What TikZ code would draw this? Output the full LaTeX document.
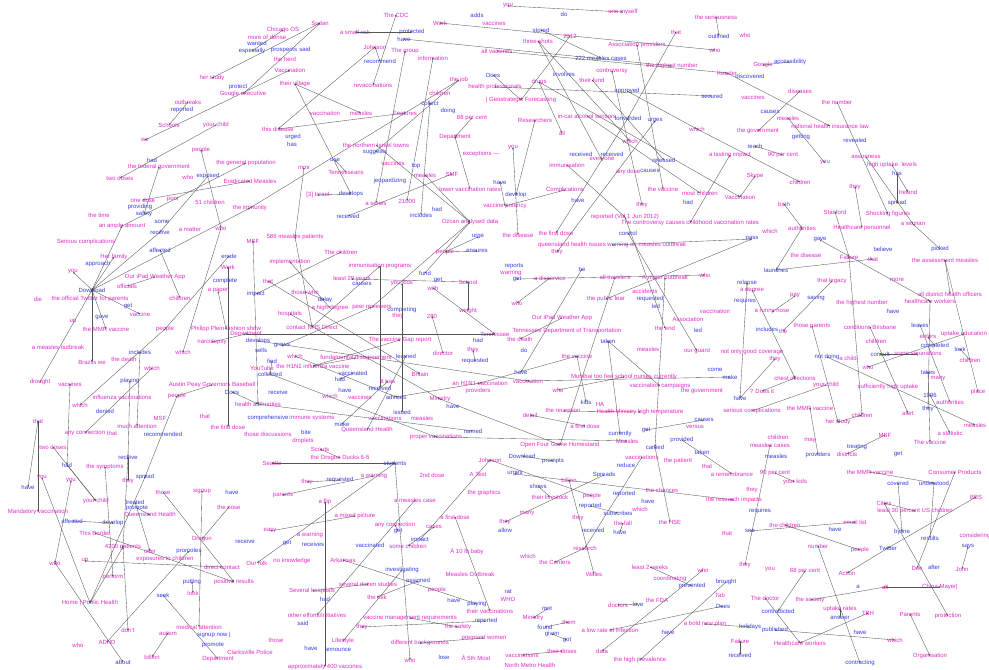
\documentclass[tikz,border=0pt]{standalone}
\usepackage{fontspec}
\setmainfont{Liberation Sans}
\usetikzlibrary{arrows.meta}
\definecolor{magC}{RGB}{226,45,200}
\definecolor{bluC}{RGB}{55,60,225}
\definecolor{edgC}{RGB}{85,85,85}
\tikzset{
  mg/.style={text=magC, font=\fontsize{6}{6}\selectfont, inner sep=0pt},
  bl/.style={text=bluC, font=\fontsize{6}{6}\selectfont, inner sep=0pt},
  ed/.style={draw=edgC, line width=0.35pt, {Circle[length=1.6pt,fill=magC!60!black]}-{Stealth[length=2.4pt,width=1.8pt]}}
}
\newcommand\mgn[4]{\node[mg] (#1) at (#2,#3) {#4};}
\newcommand\bln[4]{\node[bl] (#1) at (#2,#3) {#4};}
\newcommand\edg[2]{\draw[ed] (#1.center) -- (#2.center);}
\begin{document}
\begin{tikzpicture}[x=1pt,y=-1pt]
\fill[white] (0,0) rectangle (989,670);
\useasboundingbox (0,0) rectangle (989,670);
% ---- top left
\mgn{chicago}{283}{30}{Chicago OS}
\mgn{sudan}{320}{23}{Sudan}
\mgn{moredense}{267}{37}{more of dense}
\bln{wanted}{257}{43}{wanted}
\bln{especially}{252}{51}{especially}
\bln{prospects}{284}{50}{prospects}
\bln{said}{305}{49}{said}
\mgn{herd}{285}{59}{the herd}
\mgn{herstudy}{212}{78}{her study}
\bln{protect}{238}{87}{protect}
\mgn{googleexec}{243}{94}{Google executive}
\mgn{village}{295}{84}{their village}
\mgn{outbreaks}{188}{102}{outbreaks}
\bln{reported1}{182}{110}{reported}
\mgn{schools}{169}{125}{Schools}
\mgn{yourchild1}{216}{125}{your child}
\mgn{we1}{145}{140}{we}
\mgn{people1}{201}{150}{people}
\bln{had1}{152}{160}{had}
\mgn{fedgov}{159}{167}{the federal government}
\mgn{twodoses1}{120}{178}{two doses}
\mgn{genpop}{246}{163}{the general population}
\mgn{who1}{188}{177}{who}
\bln{exposed}{208}{176}{exposed}
\mgn{eradicated}{250}{181}{Eradicated Measles}
\mgn{onedose}{143}{200}{one dose}
\mgn{poor}{173}{200}{poor}
\bln{providing}{140}{207}{providing}
\bln{safety}{144}{214}{safety}
\mgn{thetime}{99}{215}{the time}
\mgn{children51}{210}{202}{51 children}
\mgn{immunity}{250}{208}{the immunity}
\mgn{thisdisease}{278}{129}{this disease}
\bln{urged}{293}{137}{urged}
\bln{has1}{292}{144}{has}
% ---- top middle
\mgn{cdc}{396}{15}{The CDC}
\mgn{smallrisk}{355}{32}{a small risk}
\bln{protected}{412}{32}{protected}
\bln{have1}{404}{39}{have}
\mgn{johnson1}{375}{47}{Johnson}
\mgn{group}{405}{51}{The group}
\bln{recommend}{380}{61}{recommend}
\mgn{vaccination1}{290}{70}{Vaccination}
\mgn{revacc}{373}{85}{revaccinations}
\mgn{information}{433}{58}{information}
\mgn{work1}{440}{23}{Work}
\bln{adds}{477}{15}{adds}
\mgn{vaccines1}{494}{23}{vaccines}
\mgn{alltvacc}{497}{51}{all vaccines}
\bln{does1}{493}{75}{Does}
\mgn{thejob}{459}{80}{the job}
\mgn{healthpro}{495}{87}{health professionals}
\mgn{children1}{440}{93}{children}
\bln{collect}{430}{103}{collect}
\bln{doing}{448}{111}{doing}
\mgn{geo}{521}{100}{| Geostrategic Forecasting}
\mgn{vaccination2}{325}{113}{vaccination}
\mgn{measles1}{361}{113}{measles}
\mgn{features}{405}{113}{Features}
\mgn{eightyeight}{472}{118}{88 per cent}
\mgn{israel}{376}{145}{the northern Israel towns}
\mgn{department1}{455}{137}{Department}
\bln{suggests}{375}{152}{suggests}
\mgn{vaccines2}{393}{163}{vaccines}
\mgn{exceptions}{481}{154}{exceptions ---}
\bln{use}{335}{160}{use}
\mgn{tennesseans}{346}{172}{Tennesseans}
\bln{top}{416}{166}{top}
\mgn{measles2}{425}{175}{measles}
\mgn{smf}{452}{174}{SMF}
\mgn{mmr}{304}{168}{mmr}
\bln{jeopard}{390}{181}{jeopardizing}
\mgn{lowervacc}{470}{189}{lower vaccination rates}
\mgn{israel3}{318}{195}{[3] Israel}
\bln{develops1}{351}{194}{develops}
\mgn{aseries}{376}{203}{a series}
\mgn{n21000}{407}{201}{21000}
\bln{received1}{348}{216}{received}
\bln{includes1}{421}{215}{includes}
\bln{had2}{437}{209}{had}
\mgn{ozcan}{470}{222}{Ozcan analysed data}
\bln{have17}{500}{182}{have}
% ---- top right-middle
\mgn{you1}{508}{6}{you}
\bln{do1}{564}{14}{do}
\mgn{onemyself}{623}{12}{one myself}
\bln{stored}{541}{30}{stored}
\mgn{y2012}{570}{36}{2012}
\mgn{threeshots}{538}{41}{three shots}
\bln{measlescases222}{601}{58}{222 measles cases}
\mgn{assoc}{637}{45}{Association providers}
\mgn{highest1}{672}{66}{the highest number}
\mgn{that1}{676}{32}{that}
\mgn{serious}{716}{17}{the seriousness}
\bln{outlined}{719}{36}{outlined}
\mgn{who2}{715}{50}{who}
\mgn{kessler}{727}{73}{Kessler}
\mgn{controversy}{612}{71}{controversy}
\bln{involves}{564}{74}{involves}
\mgn{theirfund}{592}{80}{their fund}
\mgn{drugs}{539}{82}{drugs}
\bln{approved}{627}{91}{approved}
\bln{secured}{712}{96}{secured}
\mgn{researchers}{535}{120}{Researchers}
\mgn{incar}{587}{116}{in-car alcohol sensors}
\bln{forwarded}{628}{118}{forwarded}
\bln{urges1}{655}{121}{urges}
\mgn{which1}{630}{141}{which}
\mgn{which2}{697}{129}{which}
\mgn{all1}{562}{133}{all}
\mgn{you2}{513}{148}{you}
\bln{received2}{581}{154}{received}
\bln{received3}{612}{154}{received}
\mgn{everyone}{602}{160}{everyone}
\mgn{immunisation}{567}{165}{immunisation}
\mgn{lasting}{730}{155}{a lasting impact}
\bln{released}{664}{160}{released}
\mgn{anydose}{628}{172}{any dose}
\bln{causes1}{650}{171}{causes}
\mgn{complications}{565}{190}{Complications}
\mgn{thevaccine1}{663}{189}{the vaccine}
\mgn{mostchildren}{700}{193}{most children}
\mgn{vaccination3}{740}{197}{Vaccination}
\bln{had3}{688}{202}{had}
\bln{have2}{578}{200}{have}
\mgn{they1}{642}{205}{they}
\bln{develop1}{516}{195}{develop}
\mgn{potency}{505}{206}{vaccine potency}
\mgn{vol}{625}{217}{reported (Vol 1 Jun 2012)}
\mgn{controversy2}{690}{223}{The controversy causes childhood vaccination rates}
% ---- top right
\mgn{who3}{745}{35}{who}
\mgn{google}{763}{65}{Google}
\bln{access}{790}{62}{accessibility}
\bln{discovered}{750}{76}{discovered}
\mgn{vaccines3}{753}{97}{vaccines}
\mgn{diseases}{800}{91}{diseases}
\mgn{number1}{837}{102}{the number}
\bln{causes2}{770}{112}{causes}
\mgn{measles3}{788}{118}{measles}
\mgn{thegov1}{758}{131}{the government}
\mgn{insurance}{830}{126}{national health insurance law}
\bln{getting}{801}{137}{getting}
\bln{revealed}{855}{140}{revealed}
\bln{reach}{755}{146}{reach}
\mgn{ninety1}{783}{155}{90 per cent}
\mgn{you3}{825}{163}{you}
\mgn{awareness}{866}{157}{awareness}
\mgn{uptake1}{892}{165}{high uptake\ \ levels}
\bln{has2}{897}{173}{has}
\mgn{skype}{755}{176}{Skype}
\mgn{children2}{800}{182}{children}
\mgn{they2}{855}{187}{they}
\mgn{ireland}{908}{192}{Ireland}
\bln{spread1}{897}{203}{spread}
\mgn{birth}{784}{204}{birth}
\mgn{stanford}{835}{212}{Stanford}
\mgn{shocking}{888}{214}{Shocking figures}
\mgn{woman}{913}{224}{a woman}
% ---- left middle
\mgn{ample}{122}{226}{an ample amount}
\bln{some}{162}{222}{some}
\bln{receive1}{160}{232}{receive}
\mgn{matter}{190}{230}{a matter}
\mgn{who4}{221}{228}{who}
\mgn{seriouscomp}{86}{242}{Serious complications}
\bln{affected1}{160}{250}{affected}
\mgn{herfamily}{114}{257}{Her family}
\bln{approach}{98}{264}{approach}
\bln{erode}{229}{256}{erode}
\mgn{work2}{228}{267}{Work}
\mgn{you4}{73}{272}{you}
\mgn{ipad1}{155}{277}{Our iPad Weather App}
\mgn{officials}{127}{286}{officials}
\bln{complete}{225}{281}{complete}
\mgn{apaper}{218}{291}{a paper}
\bln{download1}{92}{290}{Download}
\mgn{twitter}{90}{299}{the official Twitter for parents}
\mgn{die}{38}{299}{die}
\bln{get1}{128}{306}{get}
\mgn{children3}{180}{298}{children}
\mgn{vaccine4}{140}{314}{vaccine}
\bln{gave1}{102}{318}{gave}
\mgn{up1}{73}{322}{up}
\mgn{mmr1}{106}{329}{the MMR vaccine}
\mgn{people2}{165}{329}{people}
\mgn{philipp}{226}{329}{Philipp Plein fashion show}
\mgn{outbreak1}{58}{347}{a measles outbreak}
\mgn{narcolepsy}{212}{342}{narcolepsy}
\bln{includes2}{140}{352}{includes}
\mgn{which11}{183}{352}{which}
\mgn{death1}{124}{359}{the death}
\mgn{brazils}{92}{362}{Brazils we}
\mgn{which3}{152}{368}{which}
\mgn{drought}{40}{382}{drought}
\mgn{vaccines5}{70}{384}{vaccines}
\bln{playing1}{130}{381}{playing}
\mgn{austin}{212}{385}{Austin Peay Governors Baseball}
\mgn{people3}{177}{396}{people}
\mgn{influenza}{122}{397}{influenza vaccinations}
\mgn{which4}{80}{405}{which}
\bln{denied}{105}{411}{denied}
\bln{does2}{232}{392}{Does}
\mgn{that2}{205}{416}{that}
\mgn{that3}{38}{421}{that}
\mgn{msf1}{160}{418}{MSF}
\mgn{attention1}{137}{426}{much attention}
\mgn{anyconn1}{85}{433}{any connection}
\bln{recommended}{163}{434}{recommended}
\mgn{that4}{112}{433}{that}
\mgn{firstdose1}{228}{427}{the first dose}
\mgn{discussions}{268}{434}{those discussions}
\mgn{healthauth}{258}{404}{health authorities}
% ---- center
\mgn{msf2}{253}{241}{MSF}
\mgn{patients586}{295}{237}{586 measles patients}
\mgn{thechildren}{341}{252}{The children}
\mgn{implementation}{290}{262}{implementation}
\mgn{immprog}{380}{266}{immunisation programs}
\mgn{least20}{352}{279}{least 20 years}
\bln{causes3}{362}{284}{causes}
\bln{fund}{425}{273}{fund}
\bln{get2}{438}{280}{get}
\mgn{school}{468}{282}{School}
\mgn{with1}{433}{288}{with}
\mgn{that5}{268}{281}{that}
\mgn{yourkids}{402}{283}{you kids}
\bln{impact}{256}{294}{impact}
\mgn{thosewho}{305}{292}{those who}
\bln{delay}{325}{300}{delay}
\mgn{highdeg}{330}{308}{a high degree}
\mgn{peer}{372}{307}{peer reviewers}
\bln{completing1}{402}{310}{completing}
\mgn{they3}{398}{316}{they}
\mgn{weight}{468}{311}{weight}
\mgn{n280}{432}{316}{280}
\mgn{hospitals}{290}{314}{hospitals}
\mgn{nhs}{312}{327}{contact NHS Direct}
\mgn{department2}{246}{334}{Department}
\mgn{gapreport}{400}{340}{The vaccine Gap report}
\mgn{tennessee1}{495}{334}{Tennessee}
\bln{had4}{478}{340}{had}
\bln{develops2}{258}{341}{develops}
\bln{grows}{282}{346}{grows}
\bln{sells}{261}{350}{sells}
\mgn{which5}{295}{356}{which}
\mgn{h1n11}{313}{366}{the H1N1 influenza vaccine}
\mgn{fundamental}{356}{358}{fundamental disagreement}
\bln{learned}{406}{356}{learned}
\mgn{youtube}{262}{368}{YouTube}
\bln{find}{272}{361}{find}
\bln{collected}{270}{374}{collected}
\mgn{director}{443}{353}{director}
\mgn{they4}{473}{350}{they}
\bln{requested1}{475}{361}{requested}
\bln{vaccinated1}{353}{373}{vaccinated}
\bln{had5}{340}{379}{had}
\mgn{ithas}{388}{381}{it has}
\bln{received4}{380}{388}{received}
\mgn{britain}{420}{374}{Britain}
\mgn{h1n12}{480}{383}{an H1N1 vaccination}
\bln{receive2}{278}{392}{receive}
\bln{have3}{345}{390}{have}
\mgn{vaccines6}{360}{397}{vaccines}
\mgn{which6}{330}{396}{which}
\bln{advises}{396}{397}{advises}
\mgn{ministry1}{440}{399}{Ministry}
\mgn{providers1}{478}{391}{providers}
\bln{have4}{453}{406}{have}
\bln{issued}{402}{412}{issued}
\mgn{measles4}{422}{418}{measles}
\mgn{vaccinations1}{385}{418}{vaccinations}
\bln{comprehensive}{268}{418}{comprehensive}
\mgn{immunesys}{312}{418}{immune systems}
\bln{make1}{342}{424}{make}
\mgn{qh1}{367}{430}{Queensland Health}
\bln{bite}{306}{432}{bite}
\mgn{droplets}{303}{441}{droplets}
\bln{named}{473}{431}{named}
\mgn{proper}{436}{437}{proper vaccinations}
\mgn{people7}{445}{252}{people}
\bln{ensures}{477}{251}{ensures}
\bln{urge}{478}{237}{urge}
% ---- center right
\mgn{disease1}{518}{235}{the disease}
\mgn{firstdose2}{556}{233}{the first dose}
\mgn{qhissues}{612}{245}{queensland health issues warning on measles outbreak}
\mgn{they5}{557}{252}{they}
\bln{control}{628}{233}{control}
\bln{reports1}{514}{266}{reports}
\mgn{warning1}{511}{273}{warning}
\bln{get3}{517}{279}{get}
\mgn{disservice}{550}{278}{a disservice}
\bln{be1}{582}{269}{be}
\mgn{travelers}{615}{277}{all travelers}
\mgn{majoroutbreak}{665}{278}{A major outbreak}
\mgn{who5}{705}{275}{who}
\mgn{publicfear}{606}{299}{the public fear}
\bln{requested2}{650}{299}{requested}
\mgn{accidents}{645}{291}{accidents}
\bln{led1}{656}{306}{led}
\mgn{vaccination4}{715}{311}{vaccination}
\mgn{who6}{517}{303}{who}
\mgn{ipad2}{562}{318}{Our iPad Weather App}
\mgn{tdot}{567}{331}{Tennessee Department of Transportation}
\mgn{assoc2}{688}{319}{Association}
\mgn{theend}{665}{328}{the end}
\bln{led2}{698}{330}{led}
\mgn{death2}{520}{339}{the death}
\bln{taken1}{608}{341}{taken}
\mgn{measles5}{648}{349}{measles}
\mgn{ourguard}{697}{351}{our guard}
\mgn{goodcov}{752}{352}{not only good coverage}
\bln{do2}{524}{350}{do}
\mgn{thevaccine2}{577}{356}{the vaccine}
\bln{have5}{521}{372}{have}
\mgn{vaccination5}{528}{381}{vaccination}
\mgn{nurses}{624}{377}{Mumbai too few school nurses currently}
\bln{come}{715}{370}{come}
\bln{make2}{730}{377}{make}
\mgn{who7}{558}{390}{who}
\mgn{campaigns}{660}{386}{vaccination campaigns}
\mgn{thegov2}{702}{391}{the government}
\bln{kids}{586}{402}{kids}
\mgn{ha}{600}{404}{HA}
\mgn{reception}{563}{411}{the reception}
\mgn{detail}{530}{415}{detail}
\mgn{healthmin}{640}{412}{Health Ministry high temperature}
\mgn{seriouscomp2}{752}{411}{serious complications}
\mgn{firstdose3}{585}{426}{a first dose}
\bln{causes4}{704}{420}{causes}
\mgn{eversus}{695}{427}{versus}
\bln{got1}{646}{430}{got}
\bln{currently}{620}{434}{currently}
\mgn{measles6}{627}{441}{Measles}
\mgn{open4}{560}{445}{Open Four Game Homestand}
% ---- right middle
\mgn{which7}{770}{231}{which}
\mgn{authorities1}{802}{228}{authorities}
\mgn{hcpersonnel}{862}{228}{Healthcare personnel}
\bln{pass}{752}{239}{pass}
\bln{gave2}{820}{240}{gave}
\mgn{disease2}{806}{255}{the disease}
\mgn{failure1}{849}{257}{Failure}
\mgn{that6}{873}{259}{that}
\bln{believe}{883}{249}{believe}
\bln{picked}{940}{249}{picked}
\mgn{assessment}{945}{260}{the assessment measles}
\bln{launches}{776}{270}{launches}
\bln{relapse}{747}{283}{relapse}
\mgn{degree}{752}{290}{a degree}
\mgn{legacy}{832}{281}{that legacy}
\mgn{more1}{897}{280}{more}
\mgn{district}{950}{294}{all district health officers}
\mgn{pay}{795}{296}{pay}
\bln{saving}{816}{298}{saving}
\mgn{highest2}{862}{303}{the highest number}
\mgn{hcworkers}{930}{301}{healthcare workers}
\bln{have6}{893}{311}{have}
\mgn{runny}{772}{312}{a runny nose}
\bln{requires1}{745}{301}{requires}
\bln{includes3}{767}{329}{includes}
\mgn{the1}{783}{331}{the}
\mgn{thoseparents}{812}{326}{those parents}
\mgn{conditions}{870}{327}{conditions Brisbane}
\bln{leaves}{920}{325}{leaves}
\mgn{enters}{928}{337}{enters}
\mgn{uptakeedu}{964}{334}{uptake education}
\mgn{children4}{876}{341}{children}
\bln{completed}{935}{346}{completed}
\bln{look}{960}{349}{look}
\mgn{children5}{970}{360}{children}
\bln{notdoing}{827}{357}{not doing}
\mgn{achild}{848}{358}{a child}
\bln{consult}{880}{354}{consult}
\mgn{separations}{918}{354}{some separations}
\mgn{who8}{868}{367}{who}
\bln{takes}{928}{372}{takes}
\mgn{many1}{938}{379}{many}
\mgn{they6}{775}{359}{they}
\mgn{chest}{795}{378}{chest infections}
\mgn{yourchild2}{826}{385}{your child}
\mgn{sufficient}{888}{387}{sufficiently high uptake}
\bln{y1996}{930}{395}{1996}
\mgn{authorities2}{950}{402}{authorities}
\mgn{place}{978}{392}{place}
\mgn{doesit}{762}{391}{? Does it}
\bln{have7}{740}{398}{have}
\mgn{mmr2}{810}{408}{the MMR vaccine}
\bln{they7}{928}{409}{they}
\mgn{children6}{862}{415}{children}
\mgn{herstudy2}{838}{422}{her study}
\mgn{alert}{908}{413}{alert}
\mgn{statistic}{950}{433}{a statistic}
\mgn{measles7}{975}{425}{measles}
\mgn{children7}{778}{437}{children}
\mgn{msf3}{885}{435}{MSF}
\mgn{vaccine8}{930}{442}{The vaccine}
% ---- lower left
\mgn{twodoses2}{53}{447}{two doses}
\bln{had6}{67}{465}{had}
\mgn{symptoms}{105}{467}{the symptoms}
\bln{receive3}{128}{457}{receive}
\bln{spread2}{145}{477}{spread}
\mgn{they8}{128}{481}{they}
\bln{have8}{28}{487}{have}
\mgn{you5}{42}{478}{you}
\mgn{you6}{71}{481}{you}
\mgn{those1}{163}{492}{those}
\mgn{signup}{202}{491}{signup}
\bln{have9}{232}{492}{have}
\mgn{yourchild3}{96}{501}{your child}
\bln{treated}{135}{502}{treated}
\bln{promote1}{137}{508}{promote}
\mgn{qh2}{150}{515}{Queensland Health}
\mgn{thenose}{229}{507}{the nose}
\mgn{mandatory}{38}{512}{Mandatory vaccination}
\bln{affected2}{72}{521}{affected}
\bln{develop2}{113}{523}{develop}
\mgn{border}{95}{533}{This Border}
\mgn{dragon}{202}{539}{Dragon}
\mgn{patients4200}{123}{547}{4200 patients}
\bln{receive4}{245}{541}{receive}
\mgn{offer}{150}{551}{offer}
\bln{promotes}{189}{551}{promotes}
\mgn{exposures}{165}{559}{exposures to children}
\mgn{direct}{222}{567}{direct contact}
\mgn{who9}{55}{563}{who}
\mgn{up2}{85}{561}{up}
\mgn{perform}{113}{577}{perform}
\bln{putting}{192}{582}{putting}
\mgn{positive}{234}{582}{positive results}
\mgn{look2}{193}{593}{look}
\mgn{homeph}{90}{603}{Home | Public Health}
\bln{seek}{163}{595}{seek}
\mgn{dont}{128}{630}{don't}
\mgn{medattention}{199}{627}{medical attention}
\mgn{autism}{168}{633}{autism}
\bln{signupnow}{214}{635}{signup now |}
\mgn{adhd}{107}{642}{ADHD}
\mgn{who10}{78}{645}{who}
\bln{promote2}{213}{645}{promote}
\mgn{clarksville}{250}{652}{Clarksville Police}
\mgn{department3}{218}{659}{Department}
\bln{about}{123}{662}{about}
\mgn{billion1}{152}{657}{billion}
% ---- lower center
\mgn{scouts}{320}{449}{Scouts}
\mgn{oregon}{340}{458}{the Oregon Ducks 6-5}
\mgn{seattle}{272}{463}{Seattle}
\bln{students}{395}{463}{students}
\mgn{johnson2}{490}{460}{Johnson}
\mgn{seconddose}{432}{475}{2nd dose}
\mgn{atest}{478}{474}{A Test}
\mgn{graphics}{484}{493}{the graphics}
\mgn{they9}{307}{482}{they}
\bln{requested3}{340}{480}{requested}
\mgn{warning2}{374}{476}{a warning}
\mgn{parents1}{283}{495}{parents}
\mgn{flip}{325}{502}{a flip}
\mgn{measlescase}{415}{500}{a measles case}
\mgn{mixed}{355}{516}{a mixed picture}
\mgn{firstdose4}{455}{517}{a first dose}
\mgn{anyconn2}{395}{525}{any connection}
\bln{get4}{398}{531}{get}
\mgn{cases1}{434}{527}{cases}
\bln{impact2}{420}{540}{impact}
\mgn{easy}{270}{531}{easy}
\mgn{warning3}{310}{535}{a warning}
\bln{receives}{313}{544}{receives}
\bln{get5}{287}{543}{get}
\bln{vaccinated2}{370}{545}{vaccinated}
\mgn{somechildren}{408}{546}{some children}
\mgn{tenlb}{467}{551}{Â 10 lb baby}
\mgn{noknow}{292}{561}{no knowledge}
\mgn{arkansas}{343}{560}{Arkansas}
\mgn{ourfolk}{257}{563}{Our folk}
\bln{investigating}{402}{570}{investigating}
\mgn{mo}{470}{574}{Measles Outbreak}
\mgn{dozen}{368}{584}{several dozen studies}
\mgn{severalhosp}{312}{591}{Several hospitals}
\bln{had7}{325}{599}{had}
\bln{assigned}{418}{581}{assigned}
\mgn{people4}{437}{590}{people}
\mgn{risk}{377}{597}{the risk}
\bln{have10}{454}{600}{have}
\bln{playing2}{477}{604}{playing}
\mgn{theirvacc}{490}{611}{their vaccinations}
\mgn{vmr}{410}{618}{vaccine management requirements}
\mgn{otherefforts}{317}{615}{other efforts/initiatives}
\bln{said2}{303}{623}{said}
\mgn{safety2}{458}{627}{the safety}
\bln{reported2}{486}{621}{reported}
\mgn{they10}{362}{627}{they}
\mgn{those2}{276}{640}{those}
\mgn{lifestyle}{343}{641}{Lifestyle}
\mgn{backgrounds}{420}{643}{different backgrounds}
\mgn{pregnant}{484}{638}{pregnant women}
\bln{have11}{311}{648}{have}
\bln{announce}{338}{650}{announce}
\mgn{fifthmost}{476}{658}{Â 5th Most}
\mgn{approx}{325}{667}{approximately 400 vaccines}
\bln{lose}{444}{657}{lose}
\mgn{who11}{410}{660}{who}
% ---- lower center right
\bln{carried}{655}{447}{carried}
\bln{provided}{682}{440}{provided}
\bln{download2}{522}{456}{Download}
\mgn{vaccinations2}{642}{457}{vaccinations}
\mgn{patient}{678}{461}{the patient}
\bln{prompts}{553}{461}{prompts}
\bln{taken2}{702}{452}{taken}
\mgn{that7}{707}{466}{that}
\bln{reduce}{626}{465}{reduce}
\mgn{remembrance}{732}{474}{a remembrance}
\bln{urges2}{515}{474}{urges}
\bln{spreads}{604}{475}{Spreads}
\mgn{billion2}{569}{480}{billion}
\bln{shows}{538}{486}{shows}
\mgn{chances}{662}{490}{the chances}
\mgn{livestock}{550}{497}{their livestock}
\mgn{people5}{592}{496}{people}
\bln{reported3}{624}{494}{reported}
\bln{have12}{648}{501}{have}
\mgn{research1}{734}{500}{the research impacts}
\mgn{many2}{527}{514}{many}
\bln{reported4}{590}{506}{reported}
\bln{subscribes}{618}{513}{subscribes}
\mgn{which8}{640}{509}{which}
\mgn{theyall}{578}{518}{they}
\mgn{thefall}{623}{523}{the fall}
\mgn{hse}{670}{522}{the HSE}
\bln{have13}{620}{532}{have}
\mgn{that8}{727}{533}{that}
\mgn{they11}{505}{522}{they}
\bln{allow}{505}{530}{allow}
\bln{received5}{593}{530}{received}
\mgn{research2}{585}{548}{research}
\mgn{which9}{528}{556}{which}
\mgn{centers}{555}{562}{the Centers}
\mgn{twoweeks}{650}{567}{least 2 weeks}
\mgn{who12}{703}{570}{who}
\mgn{wales}{594}{574}{Wales}
\mgn{coordinating}{670}{579}{coordinating}
\bln{prevented}{692}{586}{prevented}
\bln{brought}{726}{582}{brought}
\bln{rat}{508}{592}{rat}
\mgn{whoorg}{508}{599}{WHO}
\mgn{tab}{720}{595}{Tab}
\bln{does3}{723}{606}{Does}
\mgn{doctors}{618}{605}{doctors}
\bln{love}{638}{604}{love}
\mgn{fda}{657}{600}{the FDA}
\bln{met}{547}{609}{met}
\mgn{ministry2}{533}{618}{Ministry}
\bln{found1}{545}{627}{found}
\mgn{them}{569}{622}{them}
\mgn{lowrate}{610}{630}{a low rate of infection}
\mgn{newplan}{705}{624}{a bold new plan}
\bln{holidays}{750}{627}{holidays}
\bln{given2}{552}{634}{given}
\bln{got2}{567}{640}{got}
\bln{have14}{668}{632}{have}
\mgn{theirdoses}{562}{651}{their doses}
\mgn{vaccinations3}{522}{655}{vaccinations}
\mgn{data}{602}{651}{data}
\mgn{failure2}{740}{641}{Failure}
\mgn{northmetro}{530}{665}{North Metro Health}
\mgn{prevalence}{640}{660}{the high prevalence}
\bln{received6}{740}{655}{received}
% ---- lower right
\mgn{measlescases2}{770}{445}{measles cases}
\mgn{may}{810}{441}{may}
\bln{treating}{857}{447}{treating}
\bln{measles8}{776}{456}{measles}
\bln{providers2}{818}{455}{providers}
\mgn{districts}{847}{454}{districts}
\bln{get6}{898}{454}{get}
\mgn{mmr3}{870}{472}{the MMR vaccine}
\mgn{consumer}{955}{472}{Consumer Products}
\mgn{ninety2}{775}{473}{90 per cent}
\mgn{yourkids2}{795}{482}{your kids}
\bln{covered}{898}{483}{covered}
\bln{understood}{934}{483}{understood}
\mgn{cities}{884}{503}{Cities}
\mgn{least30}{915}{511}{least 30 percent US children}
\mgn{bbs}{976}{497}{BBS}
\mgn{they12}{752}{490}{they}
\bln{requires2}{760}{511}{requires}
\mgn{emaillist}{855}{522}{email list}
\bln{have15}{835}{529}{have}
\mgn{thechildren2}{785}{525}{the children}
\bln{see}{750}{531}{see}
\bln{byline}{902}{532}{byline}
\bln{results}{930}{538}{results}
\mgn{considering}{975}{536}{considering}
\mgn{people6}{860}{550}{people}
\bln{twitter2}{888}{548}{Twitter}
\mgn{number2}{818}{546}{number}
\bln{says}{968}{547}{says}
\mgn{dee}{917}{568}{Dee}
\bln{after}{934}{567}{after}
\mgn{john}{962}{569}{John}
\mgn{they13}{745}{565}{they}
\mgn{you7}{770}{570}{you}
\mgn{eightyeight2}{805}{571}{88 per cent}
\mgn{action}{847}{573}{Action}
\bln{a1}{858}{587}{a}
\mgn{all2}{885}{587}{all}
\mgn{china}{940}{587}{China Mayer|}
\mgn{doctor}{765}{598}{The doctor}
\mgn{society}{810}{600}{the society}
\bln{contradicted}{778}{611}{contradicted}
\mgn{uptakerates}{840}{609}{uptake rates}
\mgn{tbh}{868}{613}{TBH}
\mgn{parents2}{910}{614}{Parents}
\mgn{protection}{948}{616}{protection}
\bln{answer}{840}{618}{answer}
\bln{published}{775}{630}{published}
\bln{have16}{860}{632}{have}
\mgn{which10}{895}{640}{which}
\mgn{hcworkers2}{800}{643}{Healthcare workers}
\mgn{organisation}{930}{656}{Organisation}
\bln{contracting}{860}{663}{contracting}
% ================= edges
\edg{herstudy}{sudan}
\edg{we1}{vaccination1}
\edg{outbreaks}{schools}
\edg{yourchild1}{twodoses1}
\edg{people1}{who4}
\edg{fedgov}{safety}
\edg{exposed}{receive1}
\edg{ample}{genpop}
\edg{onedose}{eradicated}
\edg{chicago}{especially}
\edg{sudan}{googleexec}
\edg{cdc}{revacc}
\edg{have1}{highest1}
\edg{johnson1}{thisdisease}
\edg{group}{aseries}
\edg{information}{n21000}
\edg{thejob}{suggests}
\edg{village}{measles1}
\edg{features}{thisdisease}
\edg{village}{develops1}
\edg{israel}{ozcan}
\edg{department1}{lowervacc}
\edg{thejob}{immunity}
\edg{collect}{includes1}
\edg{measles2}{ozcan}
\edg{smf}{received1}
\edg{mmr}{patients586}
\edg{you1}{onemyself}
\edg{work1}{who2}
\edg{y2012}{geo}
\edg{threeshots}{everyone}
\edg{does1}{geo}
\edg{alltvacc}{kessler}
\edg{healthpro}{secured}
\edg{controversy}{they1}
\edg{that1}{forwarded}
\edg{assoc}{thevaccine1}
\edg{drugs}{vaccination3}
\edg{theirfund}{released}
\edg{researchers}{develop1}
\edg{drugs}{all1}
\edg{forwarded}{firstdose2}
\edg{urges1}{they5}
\edg{you2}{disease1}
\edg{immunisation}{vol}
\edg{complications}{potency}
\edg{lasting}{controversy2}
\edg{approved}{which2}
\edg{kessler}{insurance}
\edg{diseases}{thegov1}
\edg{number1}{shocking}
\edg{measles3}{you3}
\edg{which2}{children2}
\edg{reach}{ninety1}
\edg{awareness}{woman}
\edg{uptake1}{ireland}
\edg{skype}{vaccination3}
\edg{birth}{authorities1}
\edg{they2}{hcpersonnel}
\edg{stanford}{failure1}
\edg{download1}{you4}
\edg{download1}{herfamily}
\edg{download1}{immunity}
\edg{download1}{ample}
\edg{affected1}{children3}
\edg{receive1}{download1}
\edg{download1}{vaccine4}
\edg{drought}{download1}
\edg{download1}{mmr1}
\edg{download1}{brazils}
\edg{work2}{firstdose1}
\edg{erode}{people2}
\edg{people2}{which4}
\edg{which3}{anyconn1}
\edg{includes2}{attention1}
\edg{playing1}{receive3}
\edg{vaccines5}{had6}
\edg{that3}{have8}
\edg{people3}{spread2}
\edg{does2}{healthauth}
\edg{narcolepsy}{department2}
\edg{which11}{who4}
\edg{msf2}{healthauth}
\edg{patients586}{nhs}
\edg{thechildren}{impact}
\edg{ozcan}{peer}
\edg{immprog}{received4}
\edg{fund}{ozcan}
\edg{least20}{school}
\edg{with1}{tennessee1}
\edg{school}{weight}
\edg{department2}{tennessee1}
\edg{hospitals}{ministry1}
\edg{issued}{yourkids}
\edg{director}{n280}
\edg{advises}{h1n12}
\edg{healthauth}{named}
\edg{that5}{britain}
\edg{make1}{ithas}
\edg{qhissues}{pass}
\edg{get3}{who5}
\edg{be1}{have5}
\edg{control}{ourguard}
\edg{publicfear}{pass}
\edg{theend}{vol}
\edg{majoroutbreak}{carried}
\edg{taken1}{currently}
\edg{vaccination5}{make2}
\edg{taken1}{campaigns}
\edg{open4}{travelers}
\edg{authorities1}{launches}
\edg{gave2}{hcworkers}
\edg{failure1}{children6}
\edg{launches}{that6}
\edg{legacy}{the1}
\edg{pay}{runny}
\edg{relapse}{have7}
\edg{degree}{chest}
\edg{picked}{woman}
\edg{assessment}{district}
\edg{assessment}{place}
\edg{hcworkers}{they7}
\edg{leaves}{authorities2}
\edg{look}{children5}
\edg{who8}{uptakeedu}
\edg{notdoing}{measles7}
\edg{they6}{have7}
\edg{yourchild2}{seriouscomp2}
\edg{mmr2}{providers2}
\edg{herstudy2}{children6}
\edg{thoseparents}{herstudy2}
\edg{conditions}{alert}
\edg{y1996}{statistic}
\edg{takes}{vaccine8}
\edg{msf3}{districts}
\edg{twodoses2}{yourchild3}
\edg{you5}{homeph}
\edg{you6}{who9}
\edg{symptoms}{perform}
\edg{had6}{yourchild3}
\edg{spread2}{homeph}
\edg{receive3}{they8}
\edg{those1}{positive}
\edg{signup}{medattention}
\edg{thenose}{dragon}
\edg{that3}{mandatory}
\edg{border}{positive}
\edg{patients4200}{receive3}
\edg{patients4200}{homeph}
\edg{up2}{direct}
\edg{seek}{department3}
\edg{adhd}{promotes}
\edg{who9}{about}
\edg{autism}{billion1}
\edg{dont}{patients4200}
\edg{seattle}{students}
\edg{students}{ourfolk}
\edg{students}{who11}
\edg{parents1}{warning2}
\edg{flip}{approx}
\edg{mixed}{easy}
\edg{impact2}{johnson2}
\edg{measlescase}{otherefforts}
\edg{arkansas}{playing2}
\edg{firstdose4}{theirvacc}
\edg{investigating}{lifestyle}
\edg{they10}{reported2}
\edg{urges2}{research1}
\edg{johnson2}{people5}
\edg{billion2}{wales}
\edg{vaccinations2}{research2}
\edg{spreads}{they11}
\edg{carried}{hse}
\edg{provided}{remembrance}
\edg{centers}{research2}
\edg{lowrate}{does3}
\edg{twoweeks}{prevented}
\edg{brought}{prevalence}
\edg{who12}{data}
\edg{measlescases2}{they13}
\edg{mmr3}{understood}
\edg{covered}{byline}
\edg{understood}{results}
\edg{bbs}{twitter2}
\edg{consumer}{dee}
\edg{cities}{protection}
\edg{says}{john}
\edg{thechildren2}{people6}
\edg{number2}{contracting}
\edg{emaillist}{see}
\edg{twitter2}{action}
\edg{eightyeight2}{contradicted}
\edg{all2}{society}
\edg{tbh}{hcworkers2}
\edg{published}{which10}
\edg{doctor}{hcworkers2}
\edg{thevaccine2}{kids}
\edg{h1n11}{fundamental}
\edg{urge}{people7}
\edg{ensures}{people7}
\edg{have17}{potency}
\edg{israel3}{develops1}
\edg{tennesseans}{use}
\edg{eightyeight}{department1}
\edg{protected}{smallrisk}
\edg{recommend}{johnson1}
\edg{incar}{mostchildren}
\edg{gapreport}{h1n11}
\edg{h1n12}{thevaccine2}
\edg{ministry1}{open4}
\edg{proper}{measles6}
\edg{threeshots}{which1}
\edg{stored}{measlescases222}
\edg{serious}{outlined}
\edg{google}{access}
\edg{spread1}{has2}
\edg{ipad1}{officials}
\edg{philipp}{apaper}
\edg{austin}{people3}
\edg{implementation}{highdeg}
\edg{thosewho}{delay}
\edg{learned}{qh1}
\edg{find}{collected}
\edg{vaccinated1}{had5}
\edg{requested1}{they4}
\edg{disservice}{who6}
\edg{ipad2}{death2}
\edg{nurses}{who7}
\edg{healthmin}{reception}
\edg{firstdose3}{detail}
\edg{got1}{causes4}
\edg{consult}{separations}
\edg{completed}{enters}
\edg{chest}{doesit}
\edg{offer}{treated}
\edg{promote1}{qh2}
\edg{develop2}{affected2}
\edg{putting}{look2}
\edg{oregon}{scouts}
\edg{requested3}{they9}
\edg{anyconn2}{get4}
\edg{cases1}{somechildren}
\edg{dozen}{severalhosp}
\edg{risk}{assigned}
\edg{vmr}{safety2}
\edg{backgrounds}{pregnant}
\edg{prompts}{download2}
\edg{shows}{livestock}
\edg{reported4}{subscribes}
\edg{thefall}{have13}
\edg{doctors}{love}
\edg{met}{ministry2}
\edg{found1}{them}
\edg{given2}{got2}
\edg{theirdoses}{vaccinations3}
\edg{newplan}{holidays}
\edg{failure2}{received6}
\edg{ninety2}{yourkids2}
\edg{least30}{cities}
\edg{uptakerates}{answer}
\edg{parents2}{organisation}
\edg{china}{all2}
\edg{develops2}{vaccination5}
\edg{collected}{proper}
\edg{grows}{peer}
\edg{nhs}{immprog}
\edg{which5}{advises}
\end{tikzpicture}
\end{document}
